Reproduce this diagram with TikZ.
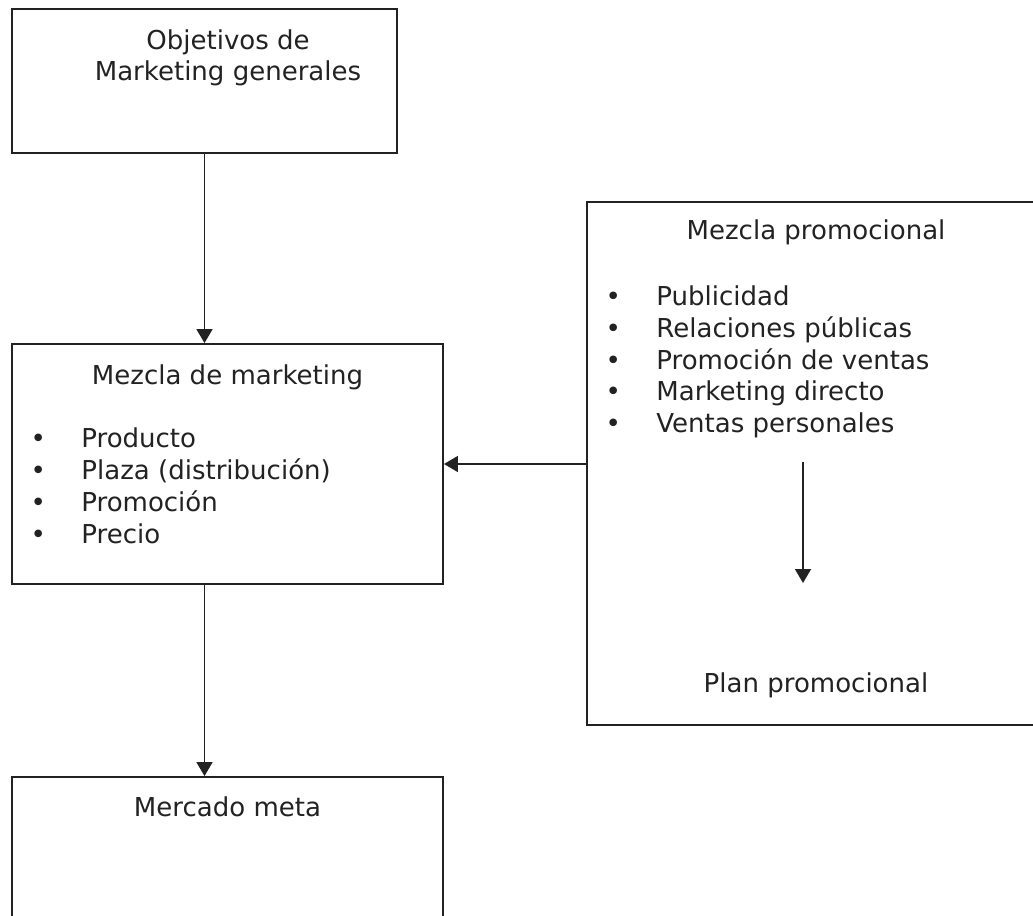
\documentclass[tikz,border=0pt]{standalone}
\usepackage{fontspec}
\setmainfont{DejaVu Sans}
\usetikzlibrary{arrows.meta}
\definecolor{ink}{HTML}{222222}

\begin{document}
\begin{tikzpicture}[x=0.025cm, y=-0.025cm,
		box/.style={shape=rectangle, draw=ink, line width=1.3pt, inner sep=0pt},
		txt/.style={text=ink, inner sep=0pt, anchor=base, font=\fontsize{18.5}{22.8}\selectfont},
		item/.style={txt, anchor=base west},
		arr/.style={draw=ink, line width=1.2pt, -{Triangle[length=0.35cm, width=0.4cm]}}]
	\useasboundingbox (0,0) rectangle (1033,915);
	\clip (0,0) rectangle (1033,915);

	% boxes
	\node (obj)[box, minimum width=9.625cm, minimum height=3.6cm] at (204.5,81) {};
	\node (mezcla)[box, minimum width=10.775cm, minimum height=6cm] at (227.5,464) {};
	\node (mercado)[box, minimum width=10.775cm, minimum height=4.575cm] at (227.5,868.5) {};
	\node (promo)[box, minimum width=11.225cm, minimum height=13.075cm] at (811.5,463.5) {};

	% texts
	\node (t1)[txt] at (228,49.5) {Objetivos de};
	\node (t2)[txt] at (228,80) {Marketing generales};
	\node (t3)[txt] at (227.5,384.5) {Mezcla de marketing};
	\node (t4)[txt] at (227.5,816.5) {Mercado meta};
	\node (t5)[txt] at (816,239.5) {Mezcla promocional};
	\node (t6)[txt] at (816,692.5) {Plan promocional};

	\foreach \t [count=\i] in {Producto, Plaza (distribución), Promoción, Precio}
		\node (mk\i)[item] at (30.3,447.5+32*\i-32) {\makebox[1.27cm][l]{•}\t};
	\foreach \t [count=\i] in {Publicidad, Relaciones públicas, Promoción de ventas, Marketing directo, Ventas personales}
		\node (pr\i)[item] at (605.3,305.5+31.75*\i-31.75) {\makebox[1.27cm][l]{•}\t};

	\coordinate (d1) at (803,462);
	\coordinate (d2) at (803,583);

	% arrows
	\draw[arr] (obj.south) -- (obj.south |- mezcla.north);
	\draw[arr] (obj.south |- mezcla.south) -- (obj.south |- mercado.north);
	\draw[arr] (promo.west |- mezcla.east) -- (mezcla.east);
	\draw[arr] (d1) -- (d2);
\end{tikzpicture}
\end{document}
